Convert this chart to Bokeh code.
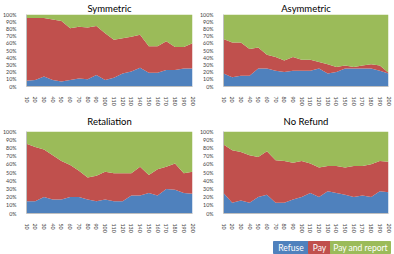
from bokeh.plotting import figure
from bokeh.layouts import column, row
from bokeh.models import ColumnDataSource, Range1d, FixedTicker, PrintfTickFormatter
from bokeh.embed import file_html
from bokeh.resources import INLINE
from bokeh.core.properties import value

# Rounds on the horizontal axis
rounds = [10, 20, 30, 40, 50, 60, 70, 80, 90, 100,
          110, 120, 130, 140, 150, 160, 170, 180, 190, 200]
y_ticks = [0, 10, 20, 30, 40, 50, 60, 70, 80, 90, 100]

series_names = ["Refuse", "Pay", "Pay and report"]
series_colors = ["#4F81BD", "#C0504D", "#9BBB59"]

# Shares (%) of each decision per treatment
symmetric_refuse = [8, 9, 14, 9, 7, 9, 11, 10, 16, 9, 12, 18, 21, 26, 19, 19, 23, 23, 25, 25]
symmetric_pay = [87, 86, 81, 84, 84, 72, 72, 72, 68, 65, 53, 49, 48, 46, 37, 37, 40, 32, 30, 35]
symmetric_report = [5, 5, 5, 7, 9, 19, 17, 18, 16, 26, 35, 33, 31, 28, 44, 44, 37, 45, 45, 40]

asymmetric_refuse = [18, 13, 15, 15, 25, 25, 22, 20, 22, 22, 22, 25, 18, 20, 25, 25, 25, 25, 22, 18]
asymmetric_pay = [48, 48, 46, 37, 29, 19, 19, 16, 19, 15, 15, 9, 13, 7, 4, 2, 4, 6, 7, 1]
asymmetric_report = [34, 39, 39, 48, 46, 56, 59, 64, 59, 63, 63, 66, 69, 73, 71, 73, 71, 69, 71, 81]

retaliation_refuse = [15, 15, 20, 17, 17, 20, 20, 17, 15, 17, 15, 15, 22, 22, 25, 22, 30, 29, 25, 24]
retaliation_pay = [70, 66, 58, 54, 47, 39, 32, 27, 31, 34, 34, 34, 27, 35, 22, 32, 27, 32, 24, 27]
retaliation_report = [15, 19, 22, 29, 36, 41, 48, 56, 54, 49, 51, 51, 51, 43, 53, 46, 43, 39, 51, 49]

norefund_refuse = [25, 13, 16, 13, 20, 23, 13, 13, 17, 20, 25, 20, 27, 25, 23, 20, 22, 20, 27, 26]
norefund_pay = [59, 64, 59, 58, 49, 53, 52, 51, 45, 44, 36, 36, 31, 33, 33, 38, 36, 40, 37, 37]
norefund_report = [16, 23, 25, 29, 31, 24, 35, 36, 38, 36, 39, 44, 42, 42, 44, 42, 42, 40, 36, 37]

FONT = "Lato"
TICK_COLOR = "#404040"


def panel(title, title_offset, title_standoff, refuse, pay, report,
          height, left, right, top, bottom):
    src = ColumnDataSource(dict(x=rounds, refuse=refuse, pay=pay, report=report))
    p = figure(width=197, height=height, output_backend="svg", toolbar_location=None,
               x_range=Range1d(10, 200), y_range=Range1d(0, 100),
               min_border_left=left, min_border_right=right,
               min_border_top=top, min_border_bottom=bottom)
    p.varea_stack(stackers=["refuse", "pay", "report"], x="x", color=series_colors, source=src)

    p.title.text = title
    p.title.align = "center"
    p.title.offset = title_offset
    p.title.standoff = title_standoff
    p.title.text_font = FONT
    p.title.text_font_size = "9.5px"
    p.title.text_font_style = "normal"
    p.title.text_color = "#000000"

    p.xgrid.visible = False
    p.ygrid.visible = False
    p.outline_line_color = None
    p.background_fill_color = "white"
    p.border_fill_color = "white"

    p.xaxis.ticker = FixedTicker(ticks=rounds)
    p.xaxis.major_label_orientation = "vertical"
    p.yaxis.ticker = FixedTicker(ticks=y_ticks)
    p.yaxis.formatter = PrintfTickFormatter(format="%d%%")
    for ax in (p.xaxis, p.yaxis):
        ax.axis_line_color = "#BFBFBF"
        ax.major_tick_line_color = None
        ax.minor_tick_line_color = None
        ax.major_label_text_font = FONT
        ax.major_label_text_font_size = "5.3px"
        ax.major_label_text_color = TICK_COLOR
    p.xaxis.major_label_standoff = 4
    p.yaxis.major_label_standoff = 4
    return p


p1 = panel("Symmetric", -3, 1, symmetric_refuse, symmetric_pay, symmetric_report,
           108, 21, 5, 12, 13)
p2 = panel("Asymmetric", -7, 1, asymmetric_refuse, asymmetric_pay, asymmetric_report,
           108, 20, 6, 12, 13)
p3 = panel("Retaliation", -2, 10, retaliation_refuse, retaliation_pay, retaliation_report,
           128, 21, 5, 22, 23)
p4 = panel("No Refund", -7, 10, norefund_refuse, norefund_pay, norefund_report,
           128, 20, 6, 22, 23)

# Legend strip: coloured boxes with the series names in white
legend_edges = [273, 308, 330, 390]
leg = figure(width=394, height=18, output_backend="svg", toolbar_location=None,
             x_range=Range1d(0, 394), y_range=Range1d(0, 18),
             min_border=0, min_border_left=0, min_border_right=0,
             min_border_top=0, min_border_bottom=0)
leg.axis.visible = False
leg.grid.visible = False
leg.outline_line_color = None
lsrc = ColumnDataSource(dict(
    left=legend_edges[:-1], right=legend_edges[1:],
    mid=[(a + b) / 2 for a, b in zip(legend_edges[:-1], legend_edges[1:])],
    name=series_names, color=series_colors))
leg.quad(left="left", right="right", bottom=1, top=13, color="color", source=lsrc)
leg.text(x="mid", y=7, text="name", text_align="center", text_baseline="middle",
         text_color="white", text_font=value(FONT), text_font_size="8.5px", source=lsrc)

layout = column(row(p1, p2), row(p3, p4), leg)
open("out.html", "w").write(file_html(layout, INLINE))
